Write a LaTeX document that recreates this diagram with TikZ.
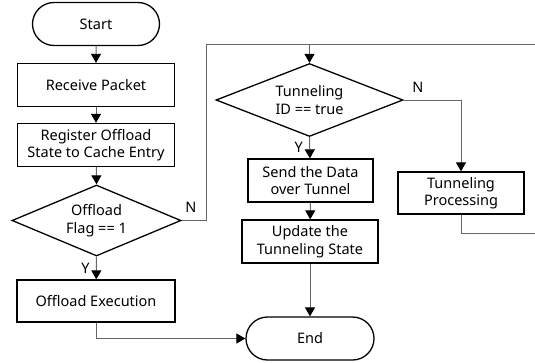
\documentclass[tikz,border=0pt]{standalone}
\usepackage{fontspec}
\setmainfont{Noto Sans}
\usetikzlibrary{shapes.geometric,shapes.misc,arrows.meta}
\begin{document}
\begin{tikzpicture}[x=1pt,y=-1pt,
  font=\fontsize{14.5}{17.5}\selectfont,
  box/.style={draw=black,line width=1.3pt,rectangle,inner sep=0pt,align=center},
  term/.style={draw=black,line width=1.3pt,rounded rectangle,inner sep=0pt,align=center},
  dia/.style={draw=black,line width=1.3pt,diamond,inner sep=0pt,align=center},
  conn/.style={draw=black!60,line width=1pt},
  arr/.style={conn,-{Triangle[length=9pt,width=10pt,fill=black,color=black]}},
  lbl/.style={font=\fontsize{14.5}{17.5}\selectfont}
]
\useasboundingbox (0,0) rectangle (535,362);
\node[term,minimum width=127pt,minimum height=43pt] (start) at (96,24) {Start};
\node[box,minimum width=157pt,minimum height=43pt] (recv) at (96,85) {Receive Packet};
\node[box,minimum width=157pt,minimum height=43pt] (reg) at (96,145) {Register Offload\\State to Cache Entry};
\node[dia,minimum width=169pt,minimum height=71pt,aspect=2.4] (flag) at (96.5,220.5) {};
\node[align=center] at (96.5,220.5) {Offload\\Flag == 1};
\node[box,minimum width=158pt,minimum height=42pt] (exec) at (96,301) {Offload Execution};
\node[term,minimum width=128pt,minimum height=43pt] (end) at (310,338.5) {End};

\node[dia,minimum width=187pt,minimum height=73pt,aspect=2.6] (tid) at (309.5,100) {};
\node[align=center] at (309.5,100) {Tunneling\\ID == true};
\node[box,minimum width=125pt,minimum height=43pt] (send) at (310.5,180.5) {Send the Data\\over Tunnel};
\node[box,minimum width=136pt,minimum height=43pt] (upd) at (310,241.5) {Update the\\Tunneling State};
\node[box,minimum width=126pt,minimum height=42pt] (tproc) at (461,193) {Tunneling\\Processing};

\coordinate (topL) at (206,44);
\coordinate (topR) at (535,44);
\coordinate (retR) at (535,233);

\draw[arr] (start) -- (recv);
\draw[arr] (recv) -- (reg);
\draw[arr] (reg) -- (flag.north);
\draw[arr] (flag.south) -- (exec) node[pos=0.5,left=3pt,lbl] {Y};
\draw[arr] (exec.south) |- (end.west);
\draw[conn] (flag.east) -| (topL) -- (topR);
\node[lbl] at (191,207) {N};
\draw[arr] (tid.north |- topL) -- (tid.north);
\draw[arr] (tid.south) -- (send) node[pos=0.5,left=3pt,lbl] {Y};
\draw[arr] (tid.east) -| (tproc.north);
\node[lbl] at (418,87) {N};
\draw[arr] (send) -- (upd);
\draw[arr] (upd) -- (end);
\draw[conn] (tproc.south) |- (retR);
\end{tikzpicture}
\end{document}
